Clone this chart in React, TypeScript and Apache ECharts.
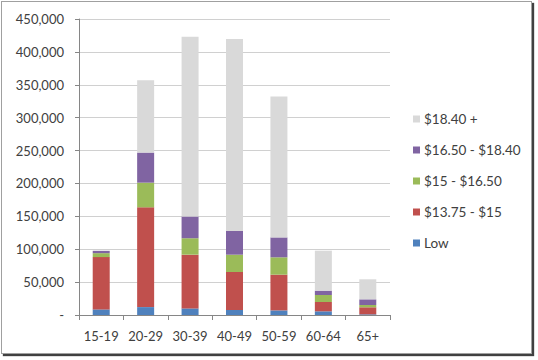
import React, { useEffect, useRef } from "react";
import * as echarts from "echarts";

const categories = ["15-19", "20-29", "30-39", "40-49", "50-59", "60-64", "65+"];
const seriesNames = ["Low", "$13.75 - $15", "$15 - $16.50", "$16.50 - $18.40", "$18.40 +"];
const low = [8500, 12000, 10000, 7600, 7000, 5600, 1000];
const band1375 = [79500, 151700, 81700, 57800, 54300, 14200, 10700];
const band15 = [6000, 37500, 25000, 26300, 26400, 10600, 3500];
const band1650 = [3500, 45700, 33000, 36000, 30300, 6600, 8600];
const band1840 = [500, 110000, 273500, 292000, 214000, 60800, 30500];
const colors = ["#4F81BD", "#C0504D", "#9BBB59", "#8064A2", "#D9D9D9"];
const legendOrder = ["$18.40 +", "$16.50 - $18.40", "$15 - $16.50", "$13.75 - $15", "Low"];

const FONT = "Lato";

export default function App() {
  const ref = useRef<HTMLDivElement>(null);
  useEffect(() => {
    document.body.style.margin = "0";
    if (!ref.current) return;
    const chart = echarts.init(ref.current, undefined, { renderer: "svg" });
    const data = [low, band1375, band15, band1650, band1840];
    chart.setOption({
      animation: false,
      textStyle: { fontFamily: FONT },
      grid: { left: 79, right: 148, top: 19, bottom: 45 },
      legend: {
        orient: "vertical",
        left: 413,
        top: 112,
        padding: 0,
        itemWidth: 7,
        itemHeight: 7,
        itemGap: 17,
        icon: "rect",
        data: legendOrder,
        textStyle: { fontFamily: FONT, fontSize: 13.5, color: "#404040", padding: [0, 0, 0, -1] },
      },
      xAxis: {
        type: "category",
        data: categories,
        axisLine: { lineStyle: { color: "#868686" } },
        axisTick: { show: true, length: 5, lineStyle: { color: "#868686" } },
        axisLabel: { color: "#404040", fontSize: 13, fontFamily: FONT, margin: 14, interval: 0 },
      },
      yAxis: {
        type: "value",
        min: 0,
        max: 450000,
        interval: 50000,
        axisLine: { show: true, lineStyle: { color: "#868686" } },
        axisTick: { show: true, length: 4, lineStyle: { color: "#868686" } },
        splitLine: { lineStyle: { color: "#D0D0D0" } },
        axisLabel: {
          color: "#404040",
          fontSize: 13,
          fontFamily: FONT,
          margin: 15,
          formatter: (v: number) => (v === 0 ? "-" : v.toLocaleString("en-US")),
        },
      },
      series: seriesNames.map((name, i) => ({
        name,
        type: "bar",
        stack: "total",
        barWidth: 17,
        data: data[i],
        itemStyle: { color: colors[i] },
      })),
    });
    return () => chart.dispose();
  }, []);
  return (
    <div style={{ position: "fixed", left: 0, top: 0, width: 538, height: 360, background: "#fff" }}>
      <div
        style={{
          position: "absolute",
          left: 1,
          top: 1,
          width: 531,
          height: 353,
          border: "1px solid #a0a0a0",
          boxShadow: "2px 2px 1px #404040",
          boxSizing: "border-box",
        }}
      />
      <div ref={ref} style={{ position: "absolute", left: 0, top: 0, width: 538, height: 360 }} />
    </div>
  );
}
